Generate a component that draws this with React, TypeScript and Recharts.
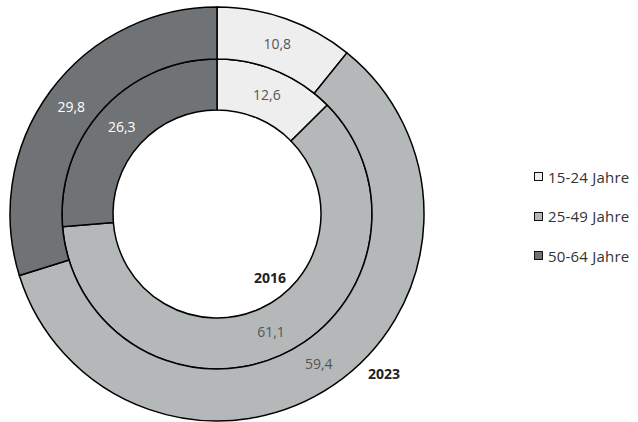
import React from "react";
import { PieChart, Pie, Cell, Legend } from "recharts";

if (typeof document !== "undefined") document.body.style.margin = "0";

const groups = ["15-24 Jahre", "25-49 Jahre", "50-64 Jahre"];
const values2016 = [12.6, 61.1, 26.3];
const values2023 = [10.8, 59.4, 29.8];
const years = ["2016", "2023"];

const colors = ["#eeeeee", "#b5b8b8", "#707375"];
const labelColors = ["#555555", "#555555", "#ffffff"];

const data2016 = groups.map((name, i) => ({ name, value: values2016[i] }));
const data2023 = groups.map((name, i) => ({ name, value: values2023[i] }));

const RAD = Math.PI / 180;
const fmt = (v: number) => v.toFixed(1).replace(".", ",");
const font = "'Open Sans', sans-serif";

const renderLabel = (props: any) => {
  const { cx, cy, midAngle, innerRadius, outerRadius, value, index } = props;
  const r = (innerRadius + outerRadius) / 2;
  const x = cx + r * Math.cos(-midAngle * RAD);
  const y = cy + r * Math.sin(-midAngle * RAD);
  return (
    <text
      x={x}
      y={y}
      fill={labelColors[index]}
      textAnchor="middle"
      dominantBaseline="central"
      fontSize={14}
      fontFamily={font}
    >
      {fmt(value)}
    </text>
  );
};

// year name sits next to the big 25-49 slice of each ring
const yearLabel = (year: string, dx: number, dy: number) => (props: any) => {
  const { cx, cy, index } = props;
  const text = (
    <text
      x={cx + dx}
      y={cy + dy}
      textAnchor="middle"
      dominantBaseline="central"
      fontSize={14}
      fontWeight="bold"
      fill="#222"
      fontFamily={font}
    >
      {year}
    </text>
  );
  return (
    <g>
      {renderLabel(props)}
      {index === 1 ? text : null}
    </g>
  );
};

const renderLegend = () => (
  <div style={{ fontFamily: font, fontSize: 15, color: "#333", letterSpacing: 0.2 }}>
    {groups.map((g, i) => (
      <div key={g} style={{ display: "flex", alignItems: "center", height: 39.5 }}>
        <span
          style={{
            display: "inline-block",
            width: 7,
            height: 7,
            background: colors[i],
            border: "1.5px solid #111",
            marginRight: 5,
          }}
        />
        {g}
      </div>
    ))}
  </div>
);

export default function App() {
  const cx = 217;
  const cy = 214;
  return (
    <div style={{ width: 638, height: 422, background: "#fff" }}>
      <PieChart width={638} height={422} margin={{ top: 0, right: 0, bottom: 0, left: 0 }}>
        <Pie
          data={data2016}
          dataKey="value"
          cx={cx}
          cy={cy}
          innerRadius={104}
          outerRadius={155}
          startAngle={90}
          endAngle={-270}
          stroke="#000"
          strokeWidth={1.5}
          label={yearLabel(years[0], 53, 63)}
          labelLine={false}
          isAnimationActive={false}
        >
          {data2016.map((d, i) => (
            <Cell key={d.name} fill={colors[i]} />
          ))}
        </Pie>
        <Pie
          data={data2023}
          dataKey="value"
          cx={cx}
          cy={cy}
          innerRadius={155}
          outerRadius={207}
          startAngle={90}
          endAngle={-270}
          stroke="#000"
          strokeWidth={1.5}
          label={yearLabel(years[1], 167, 159)}
          labelLine={false}
          isAnimationActive={false}
        >
          {data2023.map((d, i) => (
            <Cell key={d.name} fill={colors[i]} />
          ))}
        </Pie>
        <Legend
          layout="vertical"
          verticalAlign="top"
          align="right"
          content={renderLegend}
          wrapperStyle={{ left: 534, top: 157, width: 104 }}
        />
      </PieChart>
    </div>
  );
}
